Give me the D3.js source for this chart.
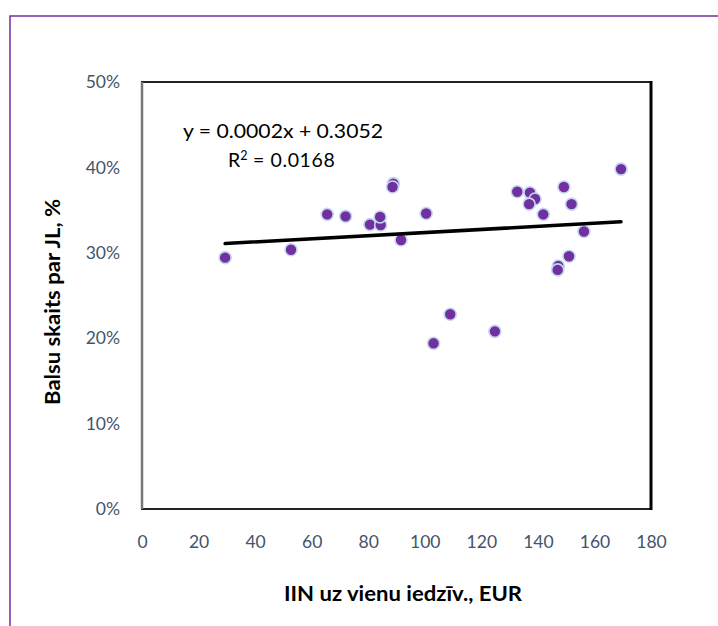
<!DOCTYPE html>
<html><head><meta charset="utf-8">
<script src="https://cdn.jsdelivr.net/npm/d3@7"></script>
<style>body{margin:0;background:#fff}svg{display:block}</style>
</head><body><div id="chart"></div>
<script>
// data
const incomeEUR = [29.4,52.7,65.5,72.0,80.6,84.4,84.2,88.9,88.6,91.6,100.5,103.1,109.0,124.8,132.7,137.2,139.0,136.9,141.9,149.2,151.9,156.3,151.0,147.2,147.0,169.4];
const voteShare = [0.2943,0.3036,0.3450,0.3427,0.3330,0.3325,0.3420,0.3810,0.3770,0.3150,0.3460,0.1940,0.2280,0.2080,0.3715,0.3704,0.3630,0.3570,0.3450,0.3770,0.3570,0.3250,0.2960,0.2845,0.2800,0.3980];
const xTicks = [0,20,40,60,80,100,120,140,160,180];
const yTicks = [0,0.1,0.2,0.3,0.4,0.5];
const trendSlope = [0.000182];
const trendIntercept = [0.3055];
const eqLabel = "y = 0.0002x + 0.3052";
const r2Label = "0.0168";
const xTitle = "IIN uz vienu iedzīv., EUR";
const yTitle = "Balsu skaits par JL, %";

const W = 718, H = 626;
const svg = d3.select("#chart").append("svg").attr("width", W).attr("height", H);
const font = "Lato, 'Open Sans', sans-serif";

// outer frame
svg.append("rect").attr("x",10).attr("y",16).attr("width",W+20).attr("height",H+20)
  .attr("fill","none").attr("stroke","#7030A0").attr("stroke-width",1.5);

const L = 142, R = 651, T = 82, B = 509;
const x = d3.scaleLinear().domain([0,180]).range([L,R]);
const y = d3.scaleLinear().domain([0,0.5]).range([B,T]);

// y axis labels
const yAxis = d3.axisLeft(y).tickValues(yTicks).tickFormat(d3.format(".0%")).tickSize(0).tickPadding(22);
const gy = svg.append("g").attr("transform",`translate(${L},0)`).call(yAxis);
gy.select(".domain").remove();
gy.selectAll("text").attr("font-family",font).attr("font-size",17.5).attr("fill","#44546A");

const xAxis = d3.axisBottom(x).tickValues(xTicks).tickFormat(d3.format("d")).tickSize(0).tickPadding(27);
const gx = svg.append("g").attr("transform",`translate(0,${B})`).call(xAxis);
gx.select(".domain").remove();
gx.selectAll("text").attr("font-family",font).attr("font-size",17.5).attr("fill","#44546A");

// plot area frame
svg.append("rect").attr("x",L).attr("y",T).attr("width",R-L).attr("height",B-T)
  .attr("fill","none").attr("stroke","#222").attr("stroke-width",2);
svg.append("line").attr("x1",L).attr("x2",L).attr("y1",T).attr("y2",B).attr("stroke","#777").attr("stroke-width",2.5);
svg.append("line").attr("x1",R).attr("x2",R).attr("y1",T-1).attr("y2",B+1).attr("stroke","#000").attr("stroke-width",3);

// points
const pts = incomeEUR.map((v,i)=>({x:v,y:voteShare[i]}));
svg.append("g").selectAll("circle").data(pts).join("circle")
  .attr("cx",d=>x(d.x)).attr("cy",d=>y(d.y)).attr("r",6)
  .attr("fill","#7030A0").attr("stroke","#C5D6EE").attr("stroke-width",1.6);

// trend line
const xmin = d3.min(incomeEUR), xmax = d3.max(incomeEUR);
const f = v => trendSlope[0]*v + trendIntercept[0];
svg.append("line").attr("x1",x(xmin)).attr("y1",y(f(xmin))).attr("x2",x(xmax)).attr("y2",y(f(xmax)))
  .attr("stroke","#000").attr("stroke-width",3.5).attr("stroke-linecap","round");

// equation
svg.append("text").attr("x",183).attr("y",138).attr("font-family",font).attr("font-size",19.5)
  .attr("textLength",200).attr("lengthAdjust","spacingAndGlyphs")
  .attr("fill","#000").text(eqLabel);
const r2 = svg.append("text").attr("x",228).attr("y",167).attr("font-family",font).attr("font-size",19.5).attr("fill","#000");
r2.append("tspan").text("R");
r2.append("tspan").attr("dy",-7).attr("font-size",12.5).text("2");
r2.append("tspan").attr("dy",7).attr("letter-spacing",0.6).text(" = " + r2Label);

// axis titles
svg.append("text").attr("x",403).attr("y",601).attr("text-anchor","middle")
  .attr("font-family",font).attr("font-weight","bold").attr("font-size",20.5)
  .attr("textLength",238).attr("lengthAdjust","spacingAndGlyphs")
  .attr("fill","#000").text(xTitle);
svg.append("text").attr("transform",`translate(60,302) rotate(-90)`).attr("text-anchor","middle")
  .attr("font-family",font).attr("font-weight","bold").attr("font-size",20.5)
  .attr("textLength",206).attr("lengthAdjust","spacingAndGlyphs")
  .attr("fill","#000").text(yTitle);
</script></body></html>
